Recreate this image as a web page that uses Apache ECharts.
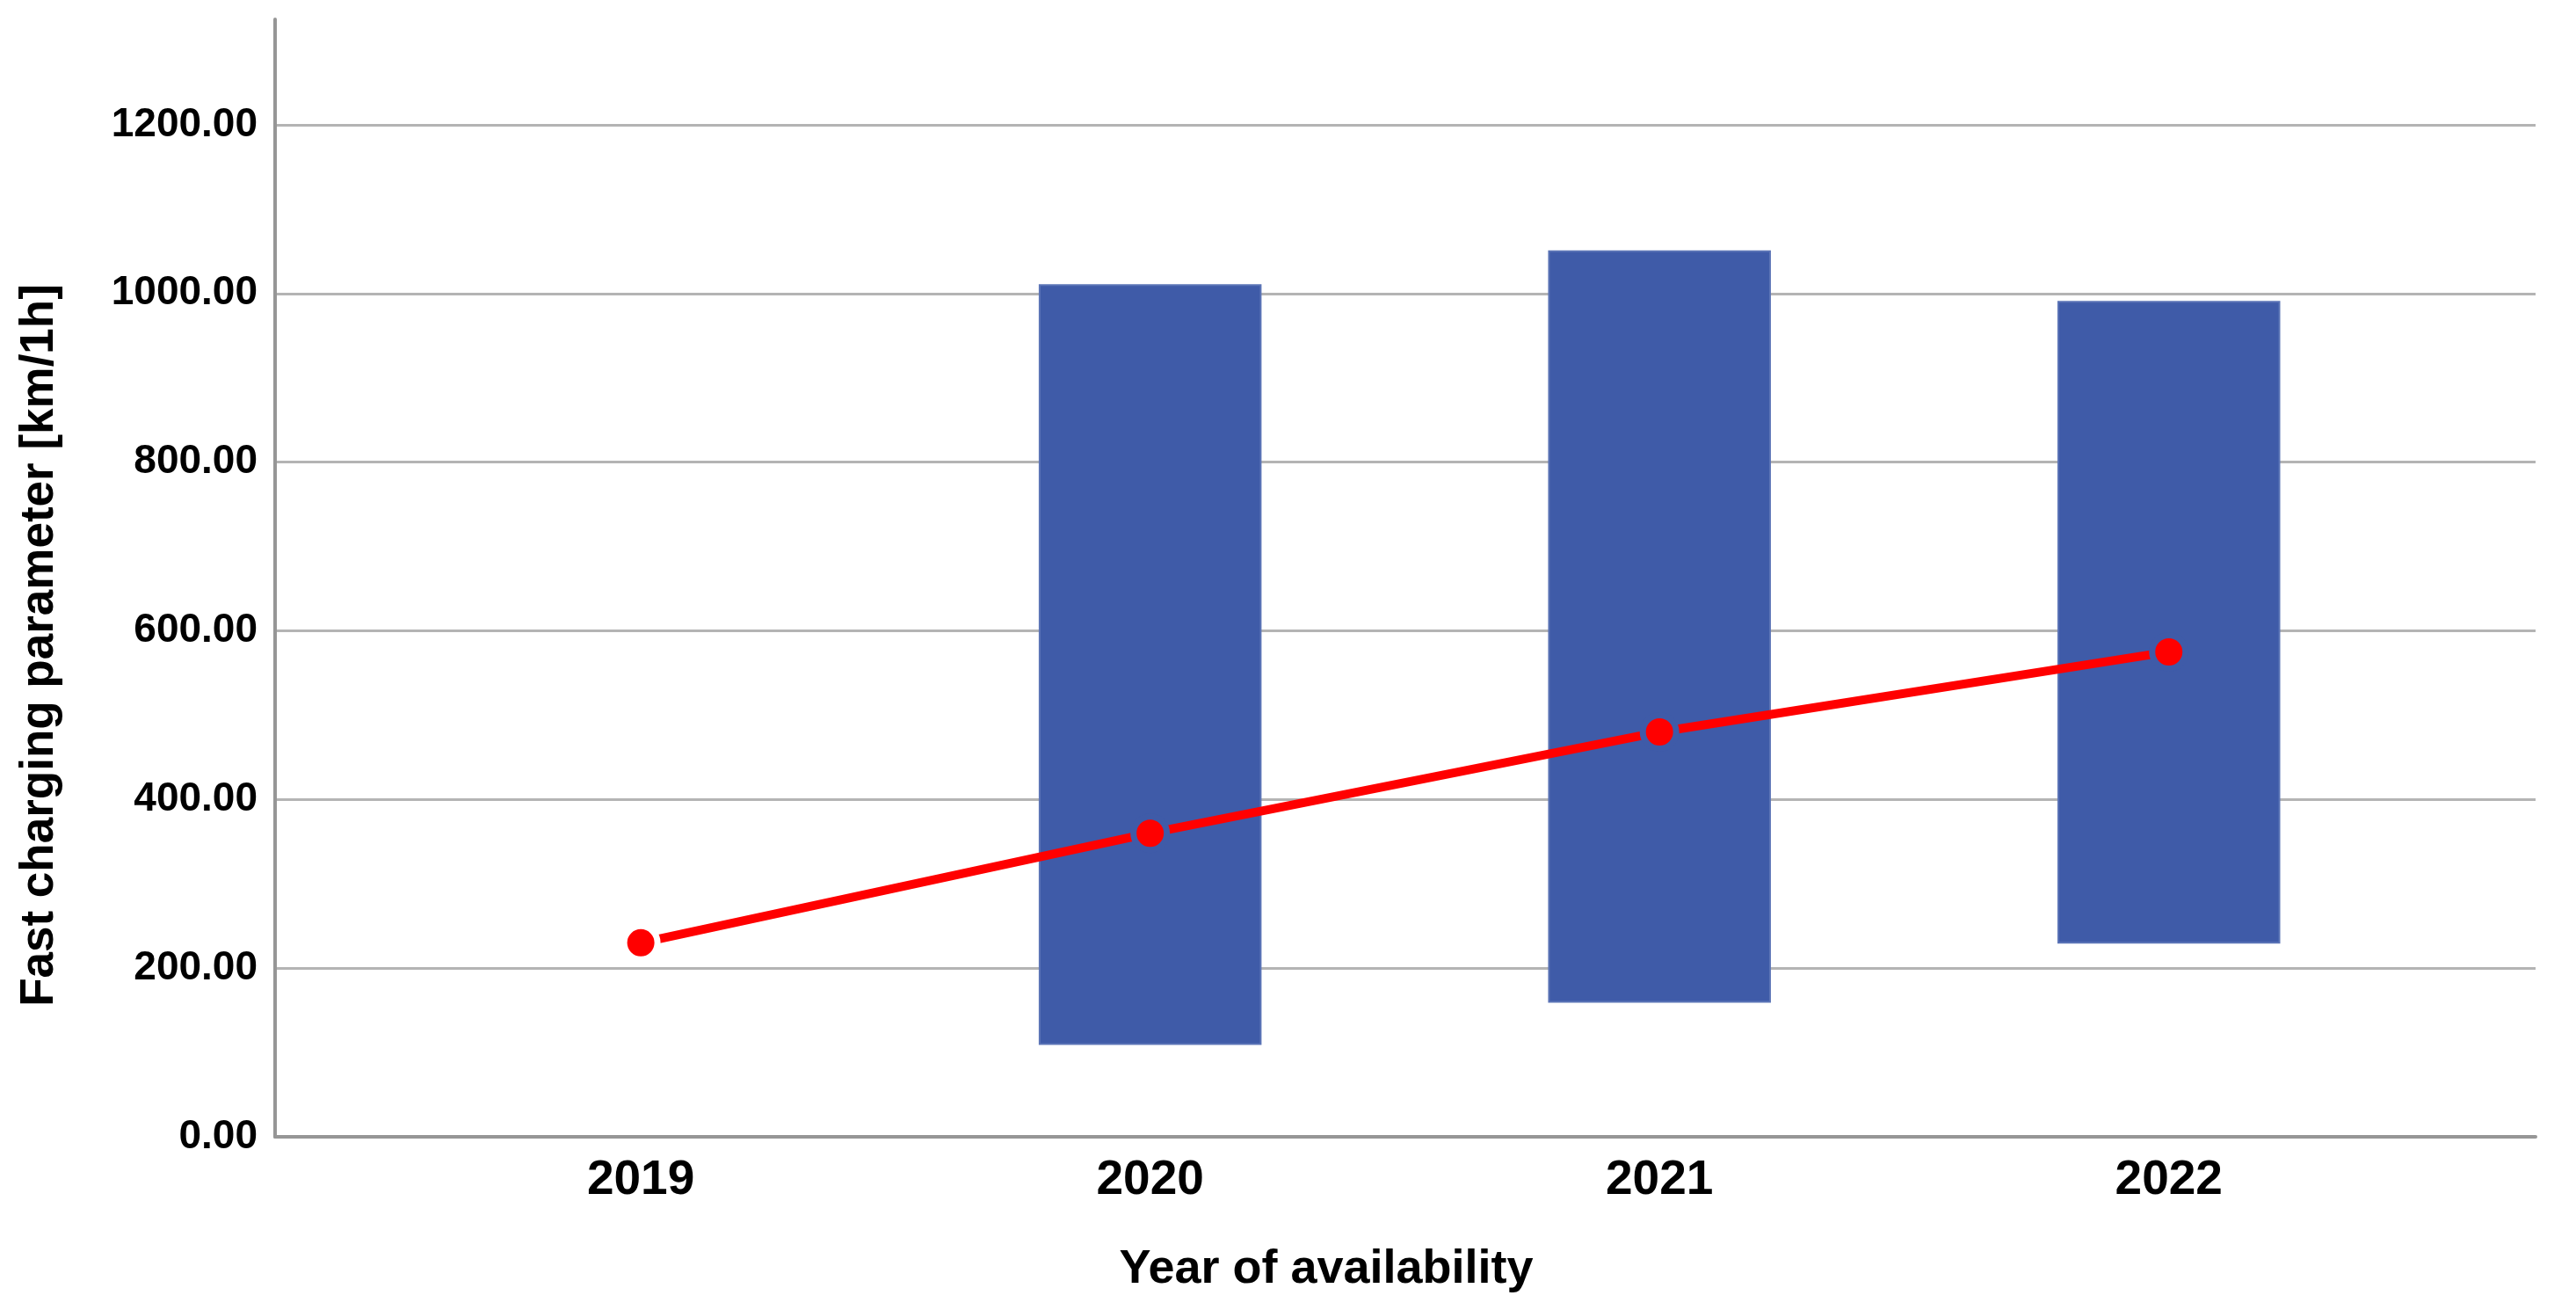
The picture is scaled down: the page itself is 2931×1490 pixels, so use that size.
<!DOCTYPE html>
<html>
<head>
<meta charset="utf-8">
<script src="https://cdn.jsdelivr.net/npm/echarts@6/dist/echarts.min.js"></script>
<style>
  html, body { margin: 0; padding: 0; background: #ffffff; }
  #chart { width: 2931px; height: 1490px; }
</style>
</head>
<body>
<div id="chart"></div>
<script>
// ---- data ----
const years = [2019, 2020, 2021, 2022];
const rangeYears = [2020, 2021, 2022];
const rangeLow = [110, 160, 230];
const rangeHigh = [1010, 1050, 990];
const meanValues = [230, 360, 480, 575];
const yTicks = [0, 200, 400, 600, 800, 1000, 1200];

const barColor = '#3f5ba8';
const lineColor = '#ff0000';

const barData = rangeYears.map((y, i) => [y, rangeLow[i], rangeHigh[i]]);
const lineData = years.map((y, i) => ({
  value: [y, meanValues[i]],
  itemStyle: { borderColor: rangeYears.indexOf(y) >= 0 ? barColor : '#ffffff' }
}));

const chart = echarts.init(document.getElementById('chart'), null, { renderer: 'canvas' });
const font = 'Liberation Sans, Arial, sans-serif';

chart.setOption({
  backgroundColor: '#ffffff',
  animation: false,
  grid: { left: 313, right: 46, top: 22, bottom: 197, containLabel: false },
  xAxis: {
    type: 'value',
    min: 2018.282,
    max: 2022.72,
    name: 'Year of availability',
    nameLocation: 'middle',
    nameGap: 124,
    nameTextStyle: { fontFamily: font, fontSize: 54, fontWeight: 'bold', color: '#000', padding: [0, 180, 0, 0] },
    axisLine: { show: true, lineStyle: { color: '#969696', width: 4 } },
    axisTick: { show: false, customValues: years },
    splitLine: { show: false },
    axisLabel: {
      customValues: years,
      formatter: v => String(v),
      fontFamily: font, fontSize: 55, fontWeight: 'bold', color: '#000', margin: 22
    }
  },
  yAxis: {
    type: 'value',
    min: 0,
    max: 1325,
    name: 'Fast charging parameter [km/1h]',
    nameLocation: 'middle',
    nameGap: 241,
    nameTextStyle: { fontFamily: font, fontSize: 53, fontWeight: 'bold', color: '#000', padding: [0, 153, 0, 0] },
    axisLine: { show: true, lineStyle: { color: '#969696', width: 4 } },
    axisTick: { show: false, customValues: yTicks },
    splitLine: { show: true, lineStyle: { color: '#b4b4b4', width: 3 } },
    axisLabel: {
      customValues: yTicks,
      formatter: v => v.toFixed(2),
      fontFamily: font, fontSize: 46, fontWeight: 'bold', color: '#000', margin: 20
    }
  },
  series: [
    {
      type: 'custom',
      name: 'range',
      data: barData,
      encode: { x: 0, y: [1, 2] },
      z: 2,
      renderItem: (params, api) => {
        const x = api.value(0);
        const top = api.coord([x, api.value(2)]);
        const bottom = api.coord([x, api.value(1)]);
        const w = api.size([0.434, 0])[0];
        return {
          type: 'rect',
          shape: { x: top[0] - w / 2, y: top[1], width: w, height: bottom[1] - top[1] },
          style: { fill: barColor, stroke: '#5b74b6', lineWidth: 2 }
        };
      }
    },
    {
      type: 'line',
      name: 'mean',
      data: lineData,
      z: 5,
      symbol: 'circle',
      symbolSize: 38,
      lineStyle: { color: lineColor, width: 10 },
      itemStyle: { color: lineColor, borderWidth: 7 }
    }
  ]
});
</script>
</body>
</html>
